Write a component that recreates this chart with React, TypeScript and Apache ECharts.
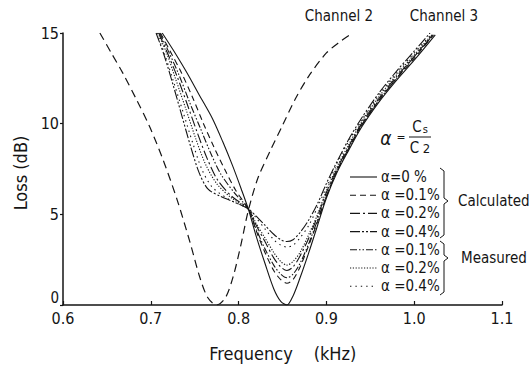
import React, { useEffect, useRef } from "react";
import * as echarts from "echarts";

const xTicks = { min: 0.6, max: 1.1, interval: 0.1 };
const yTicks = { min: 0, max: 15, interval: 5 };

const channel2: number[][] = [
  [0.642, 15], [0.655, 13.9], [0.668, 12.8], [0.684, 11.3], [0.699, 9.8], [0.714, 8.0],
  [0.730, 5.8], [0.745, 3.4], [0.756, 1.5], [0.765, 0.4], [0.775, 0], [0.785, 0.4],
  [0.794, 1.6], [0.803, 3.4], [0.811, 5.2], [0.822, 7.0], [0.836, 8.5], [0.850, 9.9],
  [0.865, 11.4], [0.881, 12.7], [0.900, 13.9], [0.915, 14.5], [0.930, 15],
];

const calc0: number[][] = [
  [0.713, 15], [0.725, 14.1], [0.740, 12.9], [0.755, 11.6], [0.770, 10.3], [0.782, 9.0],
  [0.793, 7.7], [0.803, 6.4], [0.811, 5.3], [0.820, 3.8], [0.830, 2.3], [0.840, 0.9],
  [0.848, 0.2], [0.855, 0], [0.862, 0.5], [0.870, 1.5], [0.880, 2.9], [0.890, 4.4],
  [0.900, 5.9], [0.912, 7.3], [0.925, 8.5], [0.940, 9.8], [0.960, 11.2], [0.980, 12.4],
  [1.000, 13.5], [1.024, 14.9],
];

const calc01: number[][] = [
  [0.711, 15], [0.722, 14.0], [0.735, 12.8], [0.748, 11.4], [0.760, 10.0], [0.772, 8.7],
  [0.784, 7.5], [0.797, 6.3], [0.811, 5.3], [0.820, 4.1], [0.830, 2.9], [0.840, 1.9],
  [0.848, 1.4], [0.855, 1.2], [0.862, 1.4], [0.870, 2.1], [0.880, 3.3], [0.890, 4.6],
  [0.900, 6.0], [0.912, 7.4], [0.925, 8.6], [0.940, 9.9], [0.960, 11.3], [0.980, 12.5],
  [1.000, 13.6], [1.022, 14.9],
];

const calc02: number[][] = [
  [0.709, 15], [0.719, 13.9], [0.730, 12.6], [0.742, 11.0], [0.753, 9.5], [0.764, 8.1],
  [0.776, 6.9], [0.792, 6.0], [0.811, 5.3], [0.820, 4.4], [0.830, 3.5], [0.840, 2.6],
  [0.848, 2.1], [0.855, 1.9], [0.862, 2.1], [0.870, 2.7], [0.880, 3.7], [0.890, 4.9],
  [0.900, 6.2], [0.912, 7.5], [0.925, 8.7], [0.940, 10.0], [0.960, 11.4], [0.980, 12.6],
  [1.000, 13.7], [1.020, 14.8],
];

const calc04: number[][] = [
  [0.706, 15], [0.715, 13.8], [0.725, 12.2], [0.735, 10.5], [0.745, 8.8], [0.755, 7.3],
  [0.765, 6.4], [0.779, 6.0], [0.794, 5.7], [0.811, 5.3], [0.820, 4.9], [0.830, 4.4],
  [0.840, 3.9], [0.848, 3.6], [0.855, 3.5], [0.862, 3.6], [0.870, 4.0], [0.880, 4.7],
  [0.890, 5.6], [0.900, 6.7], [0.912, 7.9], [0.925, 9.1], [0.940, 10.3], [0.960, 11.7],
  [0.980, 12.9], [1.000, 14.0], [1.018, 15],
];

const meas01: number[][] = [
  [0.710, 15], [0.720, 14.0], [0.732, 12.7], [0.744, 11.2], [0.756, 9.8], [0.768, 8.4],
  [0.780, 7.2], [0.795, 6.2], [0.811, 5.3], [0.820, 4.2], [0.830, 3.1], [0.840, 2.2],
  [0.848, 1.7], [0.855, 1.5], [0.862, 1.7], [0.870, 2.3], [0.880, 3.4], [0.890, 4.7],
  [0.900, 6.0], [0.912, 7.4], [0.925, 8.6], [0.940, 9.9], [0.960, 11.3], [0.980, 12.5],
  [1.000, 13.7], [1.021, 14.9],
];

const meas02: number[][] = [
  [0.708, 15], [0.718, 13.9], [0.728, 12.5], [0.740, 10.8], [0.751, 9.2], [0.762, 7.8],
  [0.775, 6.7], [0.792, 5.9], [0.811, 5.3], [0.820, 4.5], [0.830, 3.7], [0.840, 2.9],
  [0.848, 2.4], [0.855, 2.2], [0.862, 2.4], [0.870, 2.9], [0.880, 3.9], [0.890, 5.0],
  [0.900, 6.3], [0.912, 7.6], [0.925, 8.8], [0.940, 10.1], [0.960, 11.5], [0.980, 12.7],
  [1.000, 13.8], [1.020, 14.9],
];

const meas04: number[][] = [
  [0.707, 15], [0.716, 13.8], [0.726, 12.3], [0.737, 10.6], [0.748, 8.9], [0.758, 7.5],
  [0.770, 6.5], [0.790, 5.8], [0.811, 5.3], [0.820, 4.8], [0.830, 4.2], [0.840, 3.6],
  [0.848, 3.3], [0.855, 3.2], [0.862, 3.3], [0.870, 3.7], [0.880, 4.4], [0.890, 5.4],
  [0.900, 6.5], [0.912, 7.8], [0.925, 9.0], [0.940, 10.2], [0.960, 11.6], [0.980, 12.8],
  [1.000, 13.9], [1.019, 14.9],
];

const legendLabels = ["α=0 %", "α =0.1%", "α =0.2%", "α =0.4%", "α =0.1%", "α =0.2%", "α =0.4%"];
const groupLabels = ["Calculated", "Measured"];
const channelLabels = ["Channel 2", "Channel 3"];

const INK = "#151515";
const FONT = "'Liberation Sans Narrow', 'DejaVu Sans Condensed', 'Liberation Sans', sans-serif";

const dashes: (number[] | "solid")[] = [
  "solid",
  [6, 4],
  [10, 3, 2, 3],
  [10, 2, 2, 2, 2, 2],
  [7, 2, 1.5, 2, 1.5, 2],
  [1.2, 1.6],
  [1.4, 4],
];

export default function App() {
  const ref = useRef<HTMLDivElement>(null);
  useEffect(() => {
    if (!ref.current) return;
    const chart = echarts.init(ref.current, null, { renderer: "svg" });
    const seriesData = [calc0, calc01, calc02, calc04, meas01, meas02, meas04];
    const names = ["calc 0%", "calc 0.1%", "calc 0.2%", "calc 0.4%", "meas 0.1%", "meas 0.2%", "meas 0.4%"];
    const series: any[] = seriesData.map((d, i) => ({
      type: "line",
      name: names[i],
      data: d,
      smooth: 0.3,
      showSymbol: false,
      lineStyle: { color: INK, width: 1.1, type: dashes[i] },
      z: 3,
    }));
    series.push({
      type: "line",
      name: "Channel 2",
      data: channel2,
      smooth: 0.3,
      showSymbol: false,
      lineStyle: { color: INK, width: 1.2, type: [8, 5] },
    });

    const rowY0 = 177;
    const rowStep = 18.2;
    const graphics: any[] = [];
    legendLabels.forEach((lab, i) => {
      const y = rowY0 + i * rowStep;
      const d = dashes[i];
      graphics.push({
        type: "line",
        shape: { x1: 350, y1: y, x2: 377, y2: y },
        style: { stroke: INK, lineWidth: 1.1, lineDash: d === "solid" ? null : d },
      });
      graphics.push({
        type: "text",
        x: 381,
        y: y,
        style: { text: lab, font: `15px ${FONT}`, fill: INK, verticalAlign: "middle" },
      });
    });
    const brace = (x: number, y1: number, y2: number, ym: number) => ({
      type: "polyline",
      shape: {
        points: [
          [x - 4, y1], [x, y1 + 3], [x, ym - 3], [x + 4, ym], [x, ym + 3], [x, y2 - 3], [x - 4, y2],
        ],
      },
      style: { stroke: INK, lineWidth: 1, fill: null },
    });
    graphics.push(brace(444, 168, 238, 201));
    graphics.push(brace(444, 241, 295, 258));
    graphics.push({
      type: "text", x: 458, y: 201,
      style: { text: groupLabels[0], font: `15px ${FONT}`, fill: INK, verticalAlign: "middle" },
    });
    graphics.push({
      type: "text", x: 461, y: 258,
      style: { text: groupLabels[1], font: `15px ${FONT}`, fill: INK, verticalAlign: "middle" },
    });
    graphics.push({
      type: "text", x: 339, y: 16,
      style: { text: channelLabels[0], font: `15px ${FONT}`, fill: INK, align: "center", verticalAlign: "middle" },
    });
    graphics.push({
      type: "text", x: 444, y: 16,
      style: { text: channelLabels[1], font: `15px ${FONT}`, fill: INK, align: "center", verticalAlign: "middle" },
    });
    // alpha = Cs / C2
    graphics.push({
      type: "text", x: 386, y: 138,
      style: { text: "α", font: `italic 19px ${FONT}`, fill: INK, align: "center", verticalAlign: "middle" },
    });
    graphics.push({
      type: "text", x: 401, y: 137,
      style: { text: "=", font: `12px ${FONT}`, fill: INK, align: "center", verticalAlign: "middle" },
    });
    graphics.push({
      type: "text", x: 420, y: 127,
      style: {
        text: "{c|C}{s|s}",
        font: `14px ${FONT}`, fill: INK, align: "center", verticalAlign: "middle",
        rich: { c: { font: `15px ${FONT}`, fill: INK }, s: { font: `11px ${FONT}`, fill: INK, verticalAlign: "bottom", padding: [4, 0, 0, 1] } },
      },
    });
    graphics.push({
      type: "line",
      shape: { x1: 409, y1: 137, x2: 431, y2: 137 },
      style: { stroke: INK, lineWidth: 1 },
    });
    graphics.push({
      type: "text", x: 420, y: 148,
      style: {
        text: "{c|C}{s| 2}",
        font: `14px ${FONT}`, fill: INK, align: "center", verticalAlign: "middle",
        rich: { c: { font: `15px ${FONT}`, fill: INK }, s: { font: `13px ${FONT}`, fill: INK } },
      },
    });
    // axis names
    graphics.push({
      type: "text", x: 251, y: 353,
      style: { text: "Frequency", font: `18px ${FONT}`, fill: INK, align: "center", verticalAlign: "middle" },
    });
    graphics.push({
      type: "text", x: 335, y: 353,
      style: { text: "(kHz)", font: `18px ${FONT}`, fill: INK, align: "center", verticalAlign: "middle" },
    });
    graphics.push({
      type: "text", x: 20, y: 173, rotation: Math.PI / 2,
      style: { text: "Loss (dB)", font: `18px ${FONT}`, fill: INK, align: "center", verticalAlign: "middle" },
    });

    chart.setOption({
      animation: false,
      backgroundColor: "#ffffff",
      grid: { left: 63, right: 27, top: 33, bottom: 60 },
      xAxis: {
        type: "value",
        min: xTicks.min,
        max: xTicks.max,
        interval: xTicks.interval,
        axisLine: { show: true, lineStyle: { color: INK, width: 1.5 } },
        axisTick: { show: true, inside: true, length: 4, lineStyle: { color: INK, width: 1.2 } },
        splitLine: { show: false },
        axisLabel: {
          color: INK, fontSize: 16, fontFamily: FONT, margin: 5,
          formatter: (v: number) => v.toFixed(1),
        },
      },
      yAxis: {
        type: "value",
        min: yTicks.min,
        max: yTicks.max,
        interval: yTicks.interval,
        axisLine: { show: true, lineStyle: { color: INK, width: 1.5 } },
        axisTick: { show: true, inside: false, length: 3, lineStyle: { color: INK, width: 1.2 } },
        splitLine: { show: false },
        axisLabel: {
          color: INK, fontSize: 16, fontFamily: FONT, margin: 4,
          formatter: (v: number) => (v === 0 ? "{z|0}" : String(v)),
          rich: { z: { fontSize: 15, fontFamily: FONT, color: INK, padding: [0, 0, 14, 0] } },
        },
      },
      series,
      graphic: graphics,
    });
    return () => chart.dispose();
  }, []);
  return (
    <div
      ref={ref}
      style={{ position: "fixed", left: 0, top: 0, width: 529, height: 365, background: "#fff" }}
    />
  );
}
